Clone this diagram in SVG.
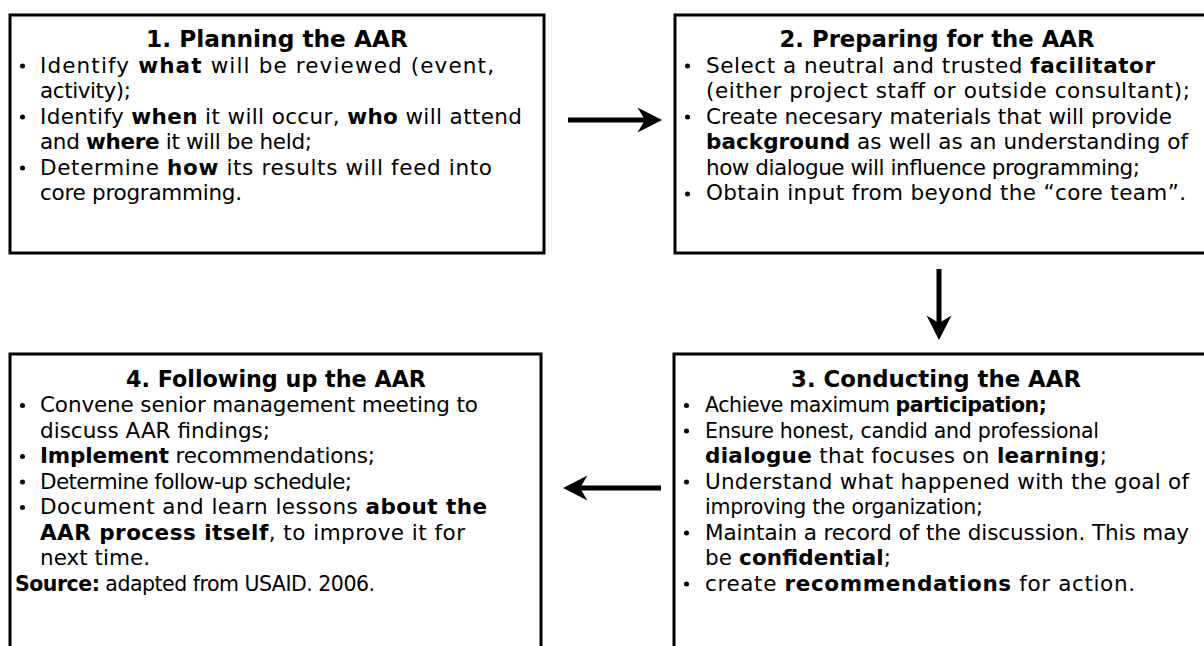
<svg xmlns="http://www.w3.org/2000/svg" width="1204" height="646" viewBox="0 0 1204 646">
<style>
.box{fill:#fff;stroke:#000;stroke-width:3}
text{font-family:"DejaVu Sans","Liberation Sans",sans-serif;font-size:21.5px;fill:#000}
.title{font-weight:bold;text-anchor:middle;font-size:23px}
.sm{font-size:20.5px}
.b{font-weight:bold}
.dot{fill:#000}
.conn{stroke:#000;stroke-width:5;fill:none}
</style>
<defs>
<marker id="ah" markerUnits="userSpaceOnUse" viewBox="-25 -13 26 26" markerWidth="26" markerHeight="26" refX="-17" refY="0" orient="auto">
<path d="M0,0 L-24.5,-12.5 L-17,0 L-24.5,12.5 Z" fill="#000"/>
</marker>
</defs>
<rect width="1204" height="646" fill="#fff"/>
<g id="node1">
<rect class="box" x="10" y="15" width="534" height="238"/>
<text class="title" x="277" y="47" textLength="262" lengthAdjust="spacingAndGlyphs">1. Planning the AAR</text>
<circle class="dot" cx="22.5" cy="66" r="2.5"/>
<circle class="dot" cx="22.5" cy="117" r="2.5"/>
<circle class="dot" cx="22.5" cy="168" r="2.5"/>
<text x="40" y="72.5" textLength="454" lengthAdjust="spacing">Identify <tspan class="b">what</tspan> will be reviewed (event,</text>
<text x="40" y="98" textLength="91" lengthAdjust="spacing">activity);</text>
<text x="40" y="123.5" textLength="482" lengthAdjust="spacing">Identify <tspan class="b">when</tspan> it will occur, <tspan class="b">who</tspan> will attend</text>
<text x="40" y="149" textLength="272" lengthAdjust="spacing">and <tspan class="b">where</tspan> it will be held;</text>
<text x="40" y="174.5" textLength="452" lengthAdjust="spacing">Determine <tspan class="b">how</tspan> its results will feed into</text>
<text x="40" y="200" textLength="202" lengthAdjust="spacing">core programming.</text>
</g>
<g id="node2">
<rect class="box" x="675" y="15" width="534" height="238"/>
<text class="title" x="937" y="47" textLength="315" lengthAdjust="spacingAndGlyphs">2. Preparing for the AAR</text>
<circle class="dot" cx="687.5" cy="66" r="2.5"/>
<circle class="dot" cx="687.5" cy="117" r="2.5"/>
<circle class="dot" cx="687.5" cy="194" r="2.5"/>
<text x="706" y="72.5" textLength="449" lengthAdjust="spacing">Select a neutral and trusted <tspan class="b">facilitator</tspan></text>
<text x="706" y="98" textLength="484" lengthAdjust="spacing">(either project staff or outside consultant);</text>
<text x="706" y="123.5" textLength="466" lengthAdjust="spacing">Create necesary materials that will provide</text>
<text x="706" y="149" textLength="482" lengthAdjust="spacing"><tspan class="b">background</tspan> as well as an understanding of</text>
<text x="706" y="174.5" textLength="434" lengthAdjust="spacing">how dialogue will influence programming;</text>
<text x="706" y="200" textLength="480" lengthAdjust="spacing">Obtain input from beyond the “core team”.</text>
</g>
<g id="node3">
<rect class="box" x="674" y="354" width="535" height="300"/>
<text class="title" x="936" y="386.5" textLength="290" lengthAdjust="spacingAndGlyphs">3. Conducting the AAR</text>
<circle class="dot" cx="686.5" cy="405.5" r="2.5"/>
<circle class="dot" cx="686.5" cy="431" r="2.5"/>
<circle class="dot" cx="686.5" cy="482" r="2.5"/>
<circle class="dot" cx="686.5" cy="533" r="2.5"/>
<circle class="dot" cx="686.5" cy="584" r="2.5"/>
<text class="sm" x="705" y="412" textLength="342" lengthAdjust="spacing">Achieve maximum <tspan class="b">participation;</tspan></text>
<text class="sm" x="705" y="437.5" textLength="394" lengthAdjust="spacing">Ensure honest, candid and professional</text>
<text x="705" y="463" textLength="402" lengthAdjust="spacing"><tspan class="b">dialogue</tspan> that focuses on <tspan class="b">learning</tspan>;</text>
<text x="705" y="488.5" textLength="484" lengthAdjust="spacing">Understand what happened with the goal of</text>
<text class="sm" x="705" y="514" textLength="278" lengthAdjust="spacing">improving the organization;</text>
<text x="705" y="539.5" textLength="484" lengthAdjust="spacing">Maintain a record of the discussion. This may</text>
<text x="705" y="565" textLength="186" lengthAdjust="spacing">be <tspan class="b">confidential</tspan>;</text>
<text x="705" y="590.5" textLength="430" lengthAdjust="spacing">create <tspan class="b">recommendations</tspan> for action.</text>
</g>
<g id="node4">
<rect class="box" x="10" y="354" width="531" height="300"/>
<text class="title" x="276" y="386.5" textLength="300" lengthAdjust="spacingAndGlyphs">4. Following up the AAR</text>
<circle class="dot" cx="22.5" cy="405.5" r="2.5"/>
<circle class="dot" cx="22.5" cy="456.5" r="2.5"/>
<circle class="dot" cx="22.5" cy="482" r="2.5"/>
<circle class="dot" cx="22.5" cy="507.5" r="2.5"/>
<text x="40" y="412" textLength="438" lengthAdjust="spacing">Convene senior management meeting to</text>
<text x="40" y="437.5" textLength="230" lengthAdjust="spacing">discuss AAR findings;</text>
<text x="40" y="463" textLength="335" lengthAdjust="spacing"><tspan class="b">Implement</tspan> recommendations;</text>
<text x="40" y="488.5" textLength="312" lengthAdjust="spacing">Determine follow-up schedule;</text>
<text x="40" y="514" textLength="447" lengthAdjust="spacing">Document and learn lessons <tspan class="b">about the</tspan></text>
<text x="40" y="539.5" textLength="425" lengthAdjust="spacing"><tspan class="b">AAR process itself</tspan>, to improve it for</text>
<text x="40" y="565" textLength="110" lengthAdjust="spacing">next time.</text>
<text class="sm" x="15" y="590.5" textLength="360" lengthAdjust="spacing"><tspan class="b">Source:</tspan> adapted from USAID. 2006.</text>
</g>
<g id="connectors">
<path class="conn" d="M568,120 H645" marker-end="url(#ah)"/>
<path class="conn" d="M939,269 V323" marker-end="url(#ah)"/>
<path class="conn" d="M661,488 H580" marker-end="url(#ah)"/>
</g>
</svg>
